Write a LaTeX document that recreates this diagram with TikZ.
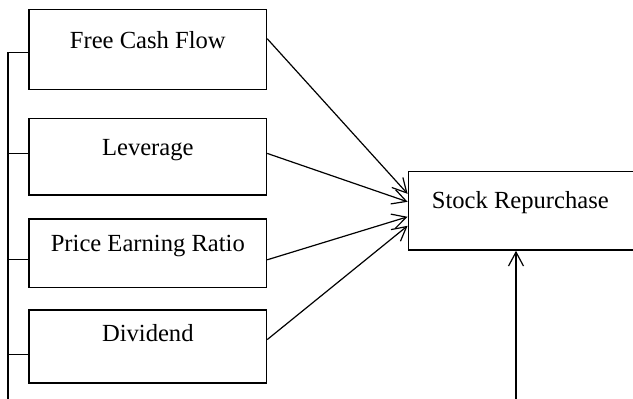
\documentclass[tikz,border=0pt]{standalone}
\usepackage{fontspec}
\setmainfont{Liberation Serif}
\usetikzlibrary{arrows.meta}
\usetikzlibrary{positioning}
\tikzset{factor/.style n args={2}{draw, line width=0.7pt, minimum width=118.7pt, inner sep=0pt, text height=#1, text depth=#2, anchor=north}}
\tikzset{to/.style={-{Straight Barb[length=7pt,width=7.5pt]}, line width=0.6pt}}

\begin{document}
\begin{tikzpicture}[
  x=1pt, y=1pt,
  font=\fontsize{12.3}{14}\selectfont,
  every node/.style={align=center},
  wire/.style={line width=0.6pt}]

  \useasboundingbox (0,0) rectangle (316.5,-199);

  % Position the nodes
  \node[factor={19.5pt}{20.5pt}, anchor=north west] (fcf) at (14.2,-4.5) {Free Cash Flow};
  \node[factor={18.7pt}{19.6pt}, below=13.7pt of fcf] (lev) {Leverage};
  \node[factor={16.3pt}{18pt}, below=11.2pt of lev] (per) {Price Earning Ratio};
  \node[factor={16pt}{20.5pt}, below=10.5pt of per] (div) {Dividend};
  \node[factor={18.3pt}{21pt}, minimum width=116pt, anchor=north west] (stock) at (203.8,-85.4) {\hspace*{-2pt}Stock Repurchase\hspace*{2pt}};

  % Bus on the left and return to the stock box
  \coordinate (bustop) at (4,-26);
  \coordinate (busbot) at (4,-200);
  \coordinate (retbot) at (258,-200);
  \foreach \n/\s in {fcf/-1.5, lev/1.75, per/-3.25, div/-4}
    \draw[wire] ([yshift=\s pt]\n.west) -- ++(-10.2,0);
  \draw[wire] (bustop) -- (busbot) -- (retbot);
  \draw[to] (retbot) -- (stock.south -| retbot);

  % Draw the arrows into the stock box
  \draw[to] ([yshift=5.5pt]fcf.east) -- ([yshift=8.5pt]stock.west);
  \draw[to] ([yshift=1.7pt]lev.east) -- ([yshift=4.5pt]stock.west);
  \draw[to] ([yshift=-3.3pt]per.east) -- ([yshift=-3pt]stock.west);
  \draw[to] ([yshift=3.4pt]div.east) -- ([yshift=-7.5pt]stock.west);
\end{tikzpicture}
\end{document}
